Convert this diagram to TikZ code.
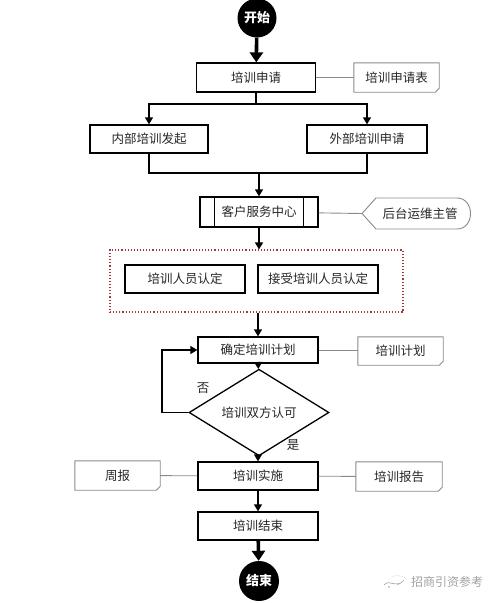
\documentclass[tikz,border=0pt]{standalone}
\usepackage{fontspec}
\setmainfont{Noto Sans CJK SC}
\usetikzlibrary{arrows.meta,shapes.geometric}
\definecolor{txt}{HTML}{262626}
\definecolor{notegray}{HTML}{8A8A8A}
\definecolor{dotred}{HTML}{A03A3A}
\definecolor{wm}{HTML}{A0A0A0}
\newcommand\notecorner[1]{\draw[noteline] (#1.north west) -- (#1.north east) -- ([yshift=4pt]#1.south east) -- ([xshift=-4pt]#1.south east) -- (#1.south west) -- cycle;}
\begin{document}
\begin{tikzpicture}[x=1pt,y=-1pt,
  lbl/.style={text=txt,font=\fontsize{12.5}{14}\selectfont},
  box/.style={lbl,draw=black,line width=1.3pt,fill=white,minimum width=118pt,minimum height=28pt,inner sep=0pt},
  notebox/.style={lbl,minimum width=85pt,minimum height=29pt,inner sep=0pt},
  noteline/.style={draw=notegray,line width=0.9pt},
  link/.style={draw=notegray,line width=0.9pt},
  arr/.style={draw=black,line width=1.3pt,-{Triangle[length=7pt,width=8pt]}},
  ln/.style={draw=black,line width=1.3pt},
  thick arr/.style={draw=black,line width=3.6pt,-{Triangle[length=10pt,width=13pt]}},
  term/.style={circle,fill=black,minimum size=39pt,inner sep=0pt,text=white,font=\fontsize{13}{15}\selectfont\bfseries},
  dec/.style={lbl,diamond,draw=black,line width=1.3pt,fill=white,minimum width=140pt,minimum height=51pt,inner sep=0pt}
]
\useasboundingbox (0,0) rectangle (499,603);

% main column
\node[term] (start) at (257,18) {开始};
\node[box,minimum width=119pt,minimum height=29pt] (apply) at (256,77.5) {培训申请};
\node[notebox] (n1) at (396.5,77.5) {培训申请表};
\notecorner{n1}

\node[box] (inner) at (149,139) {内部培训发起};
\node[box,minimum width=120pt] (outer) at (367,139) {外部培训申请};

\node[box,minimum height=30pt] (csc) at (259,212) {客户服务中心};
\draw[ln] ([xshift=15pt]csc.north west) -- ([xshift=15pt]csc.south west);
\draw[ln] ([xshift=-15pt]csc.north east) -- ([xshift=-15pt]csc.south east);

% display shape
\node[lbl] (mgr) at (420,213.5) {后台运维主管};
\draw[noteline] (362,213.5) -- (376,198) -- (457,198) .. controls (475,198) and (475,229) .. (457,229) -- (376,229) -- cycle;
\coordinate (mgrtip) at (362,213.5);

% dotted frame
\node[draw=dotred,dotted,line width=1.1pt,minimum width=293pt,minimum height=62pt,inner sep=0pt] (frame) at (256.5,281) {};
\node[box,minimum width=120pt] (p1) at (185,279) {培训人员认定};
\node[box,minimum width=120pt] (p2) at (318,279) {接受培训人员认定};

\node[box,minimum width=120pt,minimum height=26pt] (plan) at (258,350) {确定培训计划};
\node[notebox,minimum height=28pt] (n2) at (400.5,351) {培训计划};
\notecorner{n2}

\node[dec] (dia) at (259,412.5) {培训双方认可};

\node[box,minimum width=120pt] (impl) at (258,476) {培训实施};
\node[notebox] (n3) at (117.5,475.5) {周报};
\notecorner{n3}
\node[notebox,minimum width=86pt] (n4) at (399,476.5) {培训报告};
\notecorner{n4}

\node[box,minimum width=120pt] (fin) at (258,526) {培训结束};
\node[term,minimum size=40pt] (end) at (259,581) {结束};

% labels
\node[lbl] (no) at (203,388) {否};
\node[lbl] (yes) at (293,445) {是};

% watermark
\node[text=wm,font=\fontsize{12}{14}\selectfont] (wmk) at (447,582) {招商引资参考};
\draw[wm,line width=0.6pt] (384,585) .. controls (390,578) and (396,590) .. (404,580);
\draw[wm,line width=0.6pt,dotted] (392,577) .. controls (397,574) and (401,576) .. (405,578);
\fill[wm] (389,587) circle (0.8pt) (398,584) circle (0.8pt);

% connectors
\draw[thick arr] (start) -- (apply);
\draw[link] (apply) -- (n1);
\coordinate (split) at (256,104);
\draw[ln] (apply) -- (split);
\draw[arr] (split) -| (inner);
\draw[arr] (split) -| (outer);
\coordinate (merge) at (259,173);
\draw[ln] (inner) |- (merge);
\draw[ln] (outer) |- (merge);
\draw[arr] (merge) -- (csc);
\draw[link] (csc) -- (mgrtip);
\draw[arr] (csc.south) -- (csc.south |- frame.north);
\draw[arr] (frame.south -| plan.north) -- (plan);
\draw[link] (plan) -- (n2.west |- plan);
\draw[arr] (plan) -- (dia);
\coordinate (loop) at (162,412.5);
\draw[arr] (dia.west) -- (loop) |- (plan.west);
\draw[arr] (dia.south -| impl.north) -- (impl);
\draw[link] (n3) -- (impl);
\draw[link] (impl) -- (n4);
\draw[arr] (impl) -- (fin);
\draw[thick arr] (fin) -- (end);
\end{tikzpicture}
\end{document}
